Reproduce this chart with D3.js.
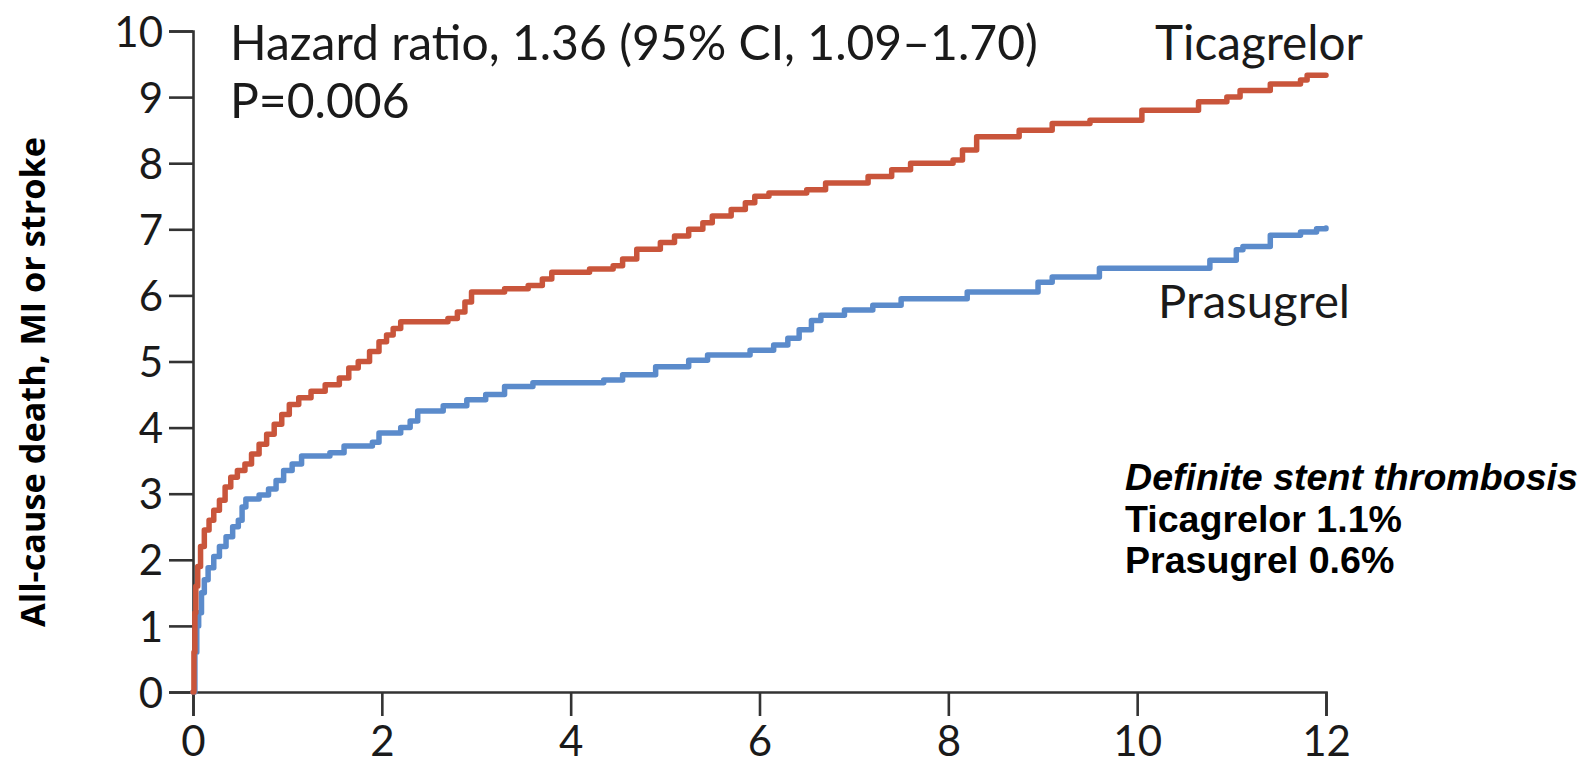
<!DOCTYPE html>
<html>
<head>
<meta charset="utf-8">
<script src="https://cdn.jsdelivr.net/npm/d3@7/dist/d3.min.js"></script>
<style>
  html, body { margin: 0; padding: 0; background: #ffffff; }
  svg { display: block; }
</style>
</head>
<body>
<svg id="chart" width="1589" height="765"></svg>
<script>
// Cumulative incidence (%) by month, Kaplan-Meier style step data
const months = [0, 2, 4, 6, 8, 10, 12];
const yTicks = [0, 1, 2, 3, 4, 5, 6, 7, 8, 9, 10];

const ticagrelor = [
  [0, 0], [0.01, 0.6], [0.02, 1.2], [0.03, 1.6], [0.05, 1.9], [0.08, 2.2], [0.12, 2.45],
  [0.17, 2.6], [0.22, 2.75], [0.28, 2.9], [0.34, 3.1], [0.4, 3.25], [0.47, 3.35],
  [0.55, 3.45], [0.62, 3.6], [0.7, 3.75], [0.78, 3.9], [0.86, 4.05], [0.94, 4.2],
  [1.02, 4.35], [1.12, 4.45], [1.25, 4.55], [1.4, 4.65], [1.55, 4.75], [1.65, 4.9],
  [1.75, 5.0], [1.87, 5.15], [1.97, 5.3], [2.05, 5.4], [2.12, 5.5], [2.2, 5.6],
  [2.7, 5.65], [2.8, 5.75], [2.88, 5.9], [2.95, 6.05], [3.3, 6.1], [3.55, 6.15],
  [3.7, 6.25], [3.8, 6.35], [4.2, 6.4], [4.45, 6.45], [4.55, 6.55], [4.7, 6.7],
  [4.95, 6.8], [5.1, 6.9], [5.25, 7.0], [5.4, 7.1], [5.5, 7.2], [5.7, 7.3],
  [5.85, 7.4], [5.95, 7.5], [6.1, 7.55], [6.5, 7.6], [6.7, 7.7], [7.15, 7.8],
  [7.4, 7.9], [7.6, 8.0], [8.05, 8.05], [8.15, 8.2], [8.3, 8.4], [8.75, 8.5],
  [9.1, 8.6], [9.5, 8.65], [10.05, 8.8], [10.65, 8.93], [10.95, 9.0], [11.09, 9.1],
  [11.41, 9.2], [11.73, 9.26], [11.8, 9.33], [12, 9.33]
];

const prasugrel = [
  [0, 0], [0.02, 0.6], [0.04, 1.0], [0.06, 1.2], [0.09, 1.5], [0.12, 1.7], [0.16, 1.88],
  [0.22, 2.05], [0.28, 2.2], [0.35, 2.35], [0.42, 2.5], [0.48, 2.6], [0.52, 2.8],
  [0.56, 2.92], [0.7, 2.98], [0.8, 3.07], [0.88, 3.2], [0.96, 3.35], [1.05, 3.45],
  [1.15, 3.57], [1.45, 3.62], [1.6, 3.72], [1.9, 3.78], [1.97, 3.92], [2.2, 4.0],
  [2.3, 4.1], [2.38, 4.25], [2.65, 4.33], [2.9, 4.42], [3.1, 4.5], [3.3, 4.62],
  [3.6, 4.68], [4.35, 4.72], [4.55, 4.8], [4.9, 4.92], [5.25, 5.02], [5.45, 5.1],
  [5.9, 5.17], [6.15, 5.25], [6.3, 5.35], [6.42, 5.48], [6.55, 5.62], [6.65, 5.7],
  [6.9, 5.78], [7.2, 5.85], [7.5, 5.95], [8.2, 6.05], [8.95, 6.2], [9.1, 6.28],
  [9.6, 6.41], [10.77, 6.53], [11.05, 6.69], [11.12, 6.74], [11.41, 6.91],
  [11.73, 6.96], [11.9, 7.01], [12, 7.02]
];

const seriesNames = ["Ticagrelor", "Prasugrel"];
const seriesColors = ["#c9553b", "#5b8bcb"];
const statLines = ["Hazard ratio, 1.36 (95% CI, 1.09\u20131.70)", "P=0.006"];
const yTitle = "All-cause death, MI or stroke";
const noteTitle = "Definite stent thrombosis";
const noteLines = ["Ticagrelor 1.1%", "Prasugrel 0.6%"];

const svg = d3.select("#chart");
const plot = { left: 193, right: 1326, top: 31, bottom: 692 };

const x = d3.scaleLinear().domain([0, 12]).range([plot.left, plot.right]);
const y = d3.scaleLinear().domain([0, 10]).range([plot.bottom, plot.top]);

const axisColor = "#333333";
const nejmFont = "Lato, 'Open Sans', sans-serif";

// Fit a text element to a target width by adjusting its font size
function fitWidth(sel, target) {
  const node = sel.node();
  const w = node.getComputedTextLength();
  const fs = parseFloat(sel.attr("font-size"));
  sel.attr("font-size", (fs * target / w).toFixed(2));
}

// Axes
const yAxis = d3.axisLeft(y).tickValues(yTicks).tickSize(24).tickSizeOuter(24).tickPadding(6);
const xAxis = d3.axisBottom(x).tickValues(months).tickSize(24).tickSizeOuter(24).tickPadding(10);

const gy = svg.append("g").attr("transform", `translate(${plot.left},0)`).call(yAxis);
const gx = svg.append("g").attr("transform", `translate(0,${plot.bottom})`).call(xAxis);

[gx, gy].forEach(g => {
  g.select(".domain").attr("stroke", axisColor).attr("stroke-width", 2.6).attr("fill", "none");
  g.selectAll(".tick line").attr("stroke", axisColor).attr("stroke-width", 2.6);
  g.selectAll(".tick text")
    .attr("fill", "#1a1a1a")
    .attr("font-family", nejmFont)
    .attr("font-size", 42);
});
gy.selectAll(".tick text").attr("dy", "0.36em");
gx.selectAll(".tick text").attr("dy", "0.72em");

// Curves
const line = d3.line()
  .x(d => x(d[0]))
  .y(d => y(d[1]))
  .curve(d3.curveStepAfter);

[prasugrel, ticagrelor].forEach((data, i) => {
  svg.append("path")
    .datum(data)
    .attr("d", line)
    .attr("fill", "none")
    .attr("stroke", i === 0 ? seriesColors[1] : seriesColors[0])
    .attr("stroke-width", 5.5)
    .attr("stroke-linejoin", "round")
    .attr("stroke-linecap", "round");
});

// Hazard ratio text
const hr = svg.append("text")
  .attr("x", 230).attr("y", 60)
  .attr("font-family", nejmFont).attr("font-size", 46)
  .attr("fill", "#1a1a1a")
  .text(statLines[0]);
fitWidth(hr, 808);
svg.append("text")
  .attr("x", 230).attr("y", 118)
  .attr("font-family", nejmFont).attr("font-size", hr.attr("font-size"))
  .attr("fill", "#1a1a1a")
  .text(statLines[1]);

// Series labels
const tl = svg.append("text")
  .attr("x", 1155).attr("y", 60)
  .attr("font-family", nejmFont).attr("font-size", 46)
  .attr("fill", "#1a1a1a")
  .text(seriesNames[0]);
fitWidth(tl, 208);
const pl = svg.append("text")
  .attr("x", 1158).attr("y", 318)
  .attr("font-family", nejmFont).attr("font-size", 46)
  .attr("fill", "#1a1a1a")
  .text(seriesNames[1]);
fitWidth(pl, 192);

// Y-axis title
const yt = svg.append("text")
  .attr("transform", `translate(45,382) rotate(-90)`)
  .attr("text-anchor", "middle")
  .attr("font-family", "'Open Sans', Lato, sans-serif")
  .attr("font-weight", "bold")
  .attr("font-size", 34)
  .attr("fill", "#000")
  .text(yTitle);
fitWidth(yt, 490);

// Stent thrombosis note
const noteFont = "'Liberation Sans', Arial, sans-serif";
const nt = svg.append("text")
  .attr("x", 1125).attr("y", 490)
  .attr("font-family", noteFont).attr("font-weight", "bold").attr("font-style", "italic")
  .attr("font-size", 37).attr("fill", "#000")
  .text(noteTitle);
fitWidth(nt, 453);
noteLines.forEach((t, i) => {
  svg.append("text")
    .attr("x", 1125).attr("y", 532 + i * 41)
    .attr("font-family", noteFont).attr("font-weight", "bold")
    .attr("font-size", nt.attr("font-size")).attr("fill", "#000")
    .text(t);
});
</script>
</body>
</html>
